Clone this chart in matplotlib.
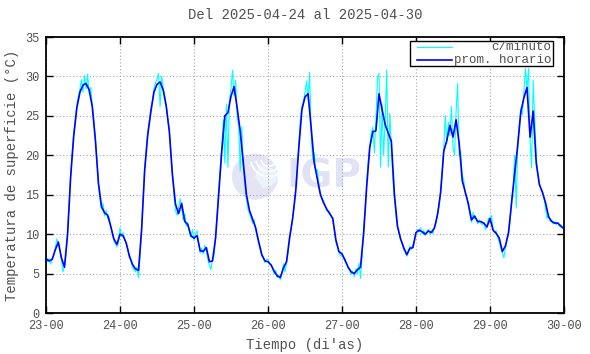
import numpy as np
import matplotlib
matplotlib.use("Agg")
import matplotlib.pyplot as plt
from matplotlib.patches import Ellipse, Wedge, Rectangle, Arc

plt.rcParams['font.family'] = ['Liberation Mono', 'DejaVu Sans Mono']

# promedio horario (una lista por dia, 24 valores, horas 0..23)
hora_23 = [6.9, 6.6, 6.8, 8.0, 9.0, 7.0, 5.8, 10.0, 17.3, 22.5, 26.0, 28.0, 28.9, 29.1, 28.3, 26.2, 22.0, 16.5, 13.5, 12.7, 12.4, 11.0, 9.4, 8.7]
hora_24 = [10.0, 9.8, 8.9, 7.3, 6.2, 5.6, 5.4, 10.5, 18.1, 22.6, 25.5, 28.0, 29.0, 29.3, 28.3, 26.2, 23.0, 17.5, 13.8, 12.6, 13.9, 11.6, 11.2, 9.8]
hora_25 = [9.5, 9.8, 7.9, 7.8, 8.3, 6.5, 6.6, 9.5, 15.0, 20.5, 25.0, 25.4, 27.5, 28.7, 26.0, 23.0, 19.0, 15.0, 13.0, 11.9, 10.8, 9.0, 7.4, 6.6]
hora_26 = [6.5, 6.1, 5.3, 4.7, 4.5, 5.7, 6.5, 9.5, 12.0, 15.5, 21.0, 25.8, 27.4, 27.8, 23.5, 19.0, 17.0, 15.0, 14.0, 13.2, 12.6, 12.0, 9.3, 7.8]
hora_27 = [7.5, 6.7, 5.8, 5.2, 5.0, 5.5, 5.8, 10.0, 16.0, 21.0, 23.0, 23.1, 27.8, 25.8, 23.9, 22.8, 21.8, 15.0, 11.0, 9.4, 8.3, 7.4, 8.2, 8.3]
hora_28 = [10.2, 10.5, 10.3, 10.0, 10.4, 10.2, 10.8, 12.5, 15.3, 20.5, 21.9, 23.8, 22.3, 24.5, 21.5, 16.8, 15.3, 13.8, 11.8, 12.3, 11.6, 11.6, 11.4, 10.9]
hora_29 = [12.0, 10.5, 10.1, 9.5, 7.8, 8.5, 10.2, 14.0, 17.7, 21.3, 25.5, 27.3, 28.6, 22.3, 25.6, 19.0, 16.3, 15.3, 14.0, 12.2, 11.6, 11.4, 11.4, 11.0]
hora_30 = [10.7]

# lecturas c/minuto (muestreadas cada 30 min, 48 valores por dia)
min_23 = [7.2, 6.5, 6.9, 6.2, 6.9, 7.3, 8.2, 9.4, 8.8, 8.0, 6.8, 5.2, 6.0, 7.5, 10.2, 13.8,
          17.5, 20.5, 22.8, 24.5, 26.5, 27.5, 28.4, 29.6, 28.0, 30.1, 28.4, 30.3, 27.8, 28.6, 26.5, 24.5,
          22.3, 19.5, 16.2, 14.5, 13.2, 13.9, 12.3, 13.0, 12.0, 12.2, 10.8, 10.0, 9.2, 8.8, 8.4, 9.0]
min_24 = [10.8, 9.7, 10.2, 9.3, 8.7, 8.2, 7.0, 6.8, 5.9, 5.5, 5.2, 5.8, 4.5, 7.2, 10.8, 14.5,
          18.3, 20.8, 23.0, 24.2, 26.0, 26.8, 28.5, 29.2, 29.6, 30.4, 26.2, 30.0, 28.5, 27.6, 26.5, 24.6,
          23.2, 20.5, 17.8, 14.8, 13.0, 12.4, 13.2, 14.5, 13.2, 11.8, 12.6, 11.0, 11.5, 10.2, 9.6, 10.6]
min_25 = [9.2, 10.0, 10.4, 8.8, 7.6, 8.2, 7.5, 8.6, 7.8, 6.8, 6.0, 5.5, 6.8, 7.2, 9.8, 12.5,
          15.5, 18.2, 21.0, 24.5, 19.0, 26.5, 18.5, 27.0, 28.5, 30.8, 27.5, 29.5, 25.0, 23.6, 18.0, 23.6,
          18.5, 16.2, 14.5, 13.2, 12.6, 12.0, 11.4, 11.8, 10.5, 9.6, 8.8, 8.0, 7.2, 7.0, 6.4, 6.8]
min_26 = [6.8, 6.2, 6.0, 5.6, 5.0, 5.4, 4.5, 4.8, 4.2, 5.0, 6.2, 5.2, 6.3, 7.5, 9.8, 10.6,
          12.2, 13.5, 15.8, 18.5, 21.5, 24.5, 26.2, 26.8, 28.0, 29.4, 27.0, 30.5, 22.5, 19.5, 20.3, 18.0,
          18.2, 16.2, 15.3, 14.5, 14.3, 13.7, 13.0, 12.9, 12.8, 12.3, 11.8, 10.6, 9.0, 8.4, 7.6, 7.3]
min_27 = [7.2, 7.0, 6.5, 6.2, 5.6, 5.4, 4.9, 5.3, 4.6, 5.6, 5.0, 6.3, 4.4, 7.0, 10.5, 13.0,
          16.5, 19.2, 21.2, 22.8, 23.6, 20.3, 24.5, 29.8, 30.4, 18.5, 26.5, 20.0, 24.5, 30.8, 18.5, 25.3,
          21.0, 17.0, 14.5, 12.2, 10.8, 10.2, 9.3, 8.9, 8.0, 7.8, 7.2, 7.6, 8.5, 8.0, 8.6, 9.2]
min_28 = [10.0, 10.6, 10.3, 10.8, 10.0, 10.5, 9.8, 10.3, 10.6, 10.0, 10.4, 10.1, 10.9, 11.4, 12.8, 13.6,
          15.8, 18.0, 21.0, 25.0, 21.5, 24.2, 22.5, 26.2, 21.0, 20.0, 25.5, 29.1, 20.0, 20.5, 17.5, 16.8,
          15.0, 14.8, 13.5, 12.4, 11.5, 12.8, 11.9, 12.0, 11.3, 11.8, 11.4, 11.2, 11.5, 10.6, 11.0, 12.0]
min_29 = [11.5, 12.4, 10.6, 10.2, 10.4, 9.6, 9.0, 8.2, 7.6, 7.0, 8.2, 9.2, 10.0, 11.5, 14.5, 16.0,
          20.0, 13.3, 21.5, 24.0, 26.0, 25.2, 28.0, 31.0, 28.4, 31.0, 21.8, 18.4, 29.5, 24.5, 19.8, 17.8,
          16.5, 15.8, 15.5, 14.6, 13.2, 12.0, 12.5, 11.6, 11.8, 11.3, 11.6, 11.2, 11.5, 11.0, 11.2, 10.8]
min_30 = [10.6]

dias = [23, 24, 25, 26, 27, 28, 29, 30]
etiquetas = ['23-00', '24-00', '25-00', '26-00', '27-00', '28-00', '29-00', '30-00']

horario = np.array(hora_23 + hora_24 + hora_25 + hora_26 + hora_27 + hora_28 + hora_29 + hora_30)
minuto = np.array(min_23 + min_24 + min_25 + min_26 + min_27 + min_28 + min_29 + min_30)
t_hor = 23 + np.arange(len(horario)) / 24.0
t_min = 23 + np.arange(len(minuto)) / 48.0

gris = '#505050'

fig = plt.figure(figsize=(5.9, 3.54), dpi=100)
ax = fig.add_axes([46 / 590, 41 / 354, 518 / 590, 276 / 354])

# marca de agua IGP
ax.add_patch(Ellipse((0.4035, 0.494), 0.089, 0.167, transform=ax.transAxes,
                     facecolor='#e4e4f5', edgecolor='none', zorder=0))
ax.add_patch(Wedge((0.4035, 0.494), 0.0445, -70, 80, transform=ax.transAxes,
                   facecolor='#ecf2fb', edgecolor='none', zorder=0))
for r in [0.03, 0.05, 0.07]:
    ax.add_patch(Arc((0.43, 0.56), r * 1.0, r * 1.88, theta1=200, theta2=330,
                     transform=ax.transAxes, color='white', lw=1.2, zorder=0))
ax.text(0.464, 0.494, 'IGP', transform=ax.transAxes, fontsize=28, fontweight='bold',
        family='DejaVu Sans', color='#e2e2f5', ha='left', va='center', zorder=0)

ax.plot(t_min, minuto, color='#00ffff', lw=0.8, zorder=2)
ax.plot(t_hor, horario, color='#0000ff', lw=1.2, zorder=3)

ax.set_xlim(23, 30)
ax.set_ylim(0, 35)
ax.set_xticks(dias)
ax.set_xticklabels(etiquetas)
ax.set_yticks(range(0, 36, 5))
ax.grid(True, color='#a8a8a8', linestyle=(0, (1, 2)), lw=0.8)
ax.tick_params(direction='in', length=5, width=1, top=True, right=True,
               labelsize=8.6, labelcolor=gris, pad=5)
for s in ax.spines.values():
    s.set_linewidth(1.3)
    s.set_color('black')

ax.set_title('Del 2025-04-24 al 2025-04-30', fontsize=10, color=gris, pad=13)
ax.set_xlabel("Tiempo (di'as)", fontsize=10, color=gris, labelpad=4)
ax.set_ylabel('Temperatura de superficie (°C)', fontsize=10, color=gris, labelpad=4)

# leyenda estilo gnuplot (muestra a la izquierda, texto a la derecha)
ax.add_patch(Rectangle((0.703, 0.895), 0.276, 0.0905, transform=ax.transAxes,
                       facecolor='white', edgecolor='black', lw=1.0, zorder=4))
ax.plot([0.716, 0.784], [0.963, 0.963], color='#00ffff', lw=0.8, transform=ax.transAxes, zorder=5)
ax.plot([0.716, 0.784], [0.916, 0.916], color='#0000ff', lw=1.2, transform=ax.transAxes, zorder=5)
ax.text(0.976, 0.963, 'c/minuto', transform=ax.transAxes, ha='right', va='center',
        fontsize=9, color=gris, zorder=5)
ax.text(0.976, 0.916, 'prom. horario', transform=ax.transAxes, ha='right', va='center',
        fontsize=9, color=gris, zorder=5)

fig.savefig('out.png', dpi=100)
